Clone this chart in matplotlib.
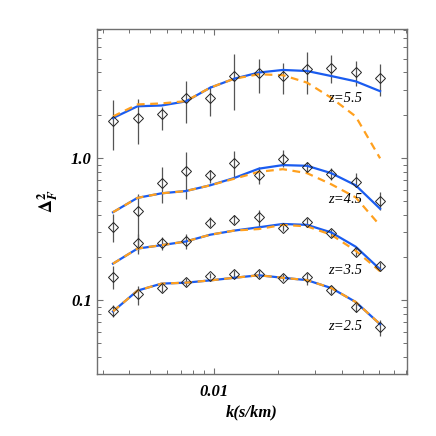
import matplotlib
matplotlib.use("Agg")
import matplotlib.pyplot as plt
from matplotlib.ticker import FixedLocator, FixedFormatter, LogLocator, NullFormatter

plt.rcParams["font.family"] = ["Liberation Serif", "DejaVu Serif"]
plt.rcParams["mathtext.fontset"] = "stix"

# ── data ──
k = [0.00336, 0.00438, 0.00568, 0.00738, 0.00961, 0.01246,
     0.01628, 0.0211, 0.0274, 0.0356, 0.0464, 0.0604]

# z = 5.5
obs55 = [1.83, 1.91, 2.05, 2.63, 2.63, 3.78, 3.94, 3.77, 4.21, 4.26, 4.03, 3.68]
lo55 = [1.13, 1.26, 1.58, 1.76, 1.96, 2.19, 2.88, 2.83, 2.80, 3.39, 3.20, 2.72]
hi55 = [2.54, 2.58, 2.30, 3.48, 3.20, 5.38, 4.95, 4.69, 5.53, 5.29, 4.82, 4.57]
blue55 = [1.91, 2.31, 2.34, 2.50, 3.12, 3.61, 3.99, 4.16, 4.09, 3.77, 3.46, 2.95]
orng55 = [1.96, 2.38, 2.42, 2.51, 3.12, 3.61, 3.88, 3.82, 3.39, 2.65, 1.96, 0.995]

# z = 4.5
obs45 = [0.330, 0.426, 0.673, 0.809, 0.758, 0.917, 0.758, 0.989, 0.863, 0.770, 0.676, 0.498]
lo45 = [0.255, 0.223, 0.485, 0.518, 0.673, 0.737, 0.662, 0.868, 0.800, 0.706, 0.626, 0.428]
hi45 = [0.401, 0.562, 0.859, 1.108, 0.822, 1.121, 0.868, 1.140, 0.942, 0.845, 0.779, 0.577]
blue45 = [0.416, 0.525, 0.565, 0.586, 0.643, 0.724, 0.842, 0.892, 0.882, 0.783, 0.643, 0.440]
orng45 = [0.416, 0.525, 0.565, 0.586, 0.643, 0.715, 0.800, 0.835, 0.783, 0.654, 0.529, 0.335]

# z = 3.5
obs35 = [0.147, 0.252, 0.252, 0.260, 0.352, 0.369, 0.384, 0.324, 0.353, 0.296, 0.219, 0.173]
lo35 = [0.121, 0.211, 0.225, 0.229, 0.326, 0.344, 0.335, 0.309, 0.326, 0.277, 0.205, 0.161]
hi35 = [0.174, 0.292, 0.280, 0.292, 0.384, 0.399, 0.428, 0.348, 0.377, 0.317, 0.235, 0.186]
blue35 = [0.181, 0.231, 0.244, 0.259, 0.289, 0.309, 0.326, 0.344, 0.339, 0.300, 0.238, 0.165]
orng35 = [0.181, 0.231, 0.244, 0.259, 0.289, 0.309, 0.317, 0.339, 0.331, 0.289, 0.223, 0.160]

# z = 2.5
obs25 = [0.0847, 0.110, 0.1223, 0.134, 0.1485, 0.152, 0.152, 0.144, 0.145, 0.118, 0.0892, 0.0649]
lo25 = [0.0759, 0.0932, 0.114, 0.1257, 0.1426, 0.1426, 0.144, 0.136, 0.129, 0.110, 0.0826, 0.0565]
hi25 = [0.0932, 0.1257, 0.1305, 0.144, 0.156, 0.1625, 0.1625, 0.152, 0.156, 0.1257, 0.0957, 0.073]
blue25 = [0.0836, 0.117, 0.131, 0.133, 0.138, 0.144, 0.150, 0.144, 0.1386, 0.122, 0.0973, 0.0679]
orng25 = [0.0836, 0.117, 0.131, 0.133, 0.138, 0.144, 0.150, 0.144, 0.1386, 0.122, 0.0973, 0.0679]

redshifts = ["z=5.5", "z=4.5", "z=3.5", "z=2.5"]
label_y = [2.62, 0.508, 0.162, 0.0652]
label_k = 0.0413

BLUE = "#1a5cf0"
ORANGE = "#ffa01e"
GRAY = "#707070"

series = [
    (obs55, lo55, hi55, blue55, orng55),
    (obs45, lo45, hi45, blue45, orng45),
    (obs35, lo35, hi35, blue35, orng35),
    (obs25, lo25, hi25, blue25, orng25),
]

fig = plt.figure(figsize=(4.36, 4.36), dpi=100)
ax = fig.add_axes([0.222, 0.142, 0.712, 0.792])
ax.set_xscale("log")
ax.set_yscale("log")

for obs, lo, hi, blue, orng in series:
    yerr = [[o - l for o, l in zip(obs, lo)], [h - o for o, h in zip(obs, hi)]]
    ax.errorbar(k, obs, yerr=yerr, fmt="none", ecolor="#555555",
                elinewidth=0.9, capsize=0, zorder=2)
    ax.plot(k, blue, color=BLUE, linewidth=1.6, zorder=3)
    ax.plot(k, orng, color=ORANGE, linewidth=1.6, linestyle=(0, (3.5, 2.5)), zorder=4)
    ax.plot(k, obs, linestyle="none", marker="D", markersize=5.3,
            markerfacecolor="none", markeredgecolor="#222222",
            markeredgewidth=0.7, zorder=5)

for name, yy in zip(redshifts, label_y):
    ax.text(label_k, yy, name, fontsize=10.5, style="italic",
            ha="center", va="center", zorder=6)

ax.set_xlim(0.00282, 0.081)
ax.set_ylim(0.0303, 8.1)

ax.xaxis.set_major_locator(FixedLocator([0.01]))
ax.xaxis.set_major_formatter(FixedFormatter(["0.01"]))
ax.xaxis.set_minor_locator(LogLocator(base=10, subs=range(2, 10), numticks=20))
ax.xaxis.set_minor_formatter(NullFormatter())
ax.yaxis.set_major_locator(FixedLocator([0.1, 1.0]))
ax.yaxis.set_major_formatter(FixedFormatter(["0.1", "1.0"]))
ax.yaxis.set_minor_locator(LogLocator(base=10, subs=range(2, 10), numticks=20))
ax.yaxis.set_minor_formatter(NullFormatter())

for sp in ax.spines.values():
    sp.set_color(GRAY)
    sp.set_linewidth(1.0)
ax.tick_params(which="both", direction="in", top=True, right=True, colors=GRAY)
ax.tick_params(which="major", length=4.5, width=0.8)
ax.tick_params(which="minor", length=2.6, width=0.7)
ax.tick_params(axis="x", which="major", pad=7, labelcolor="black")
ax.tick_params(axis="y", which="major", pad=3.5, labelcolor="black")
for lab in ax.get_xticklabels() + ax.get_yticklabels():
    lab.set_fontsize(12)
    lab.set_fontweight("bold")
    lab.set_fontstyle("italic")

ax.set_xlabel("k(s/km)", fontsize=12, fontweight="bold", style="italic", labelpad=3)
ax.set_ylabel(r"$\mathbf{\Delta}^{\mathbf{2}}_{\mathbfit{F}}$", fontsize=13, labelpad=8)

fig.savefig("out.png", dpi=100)
